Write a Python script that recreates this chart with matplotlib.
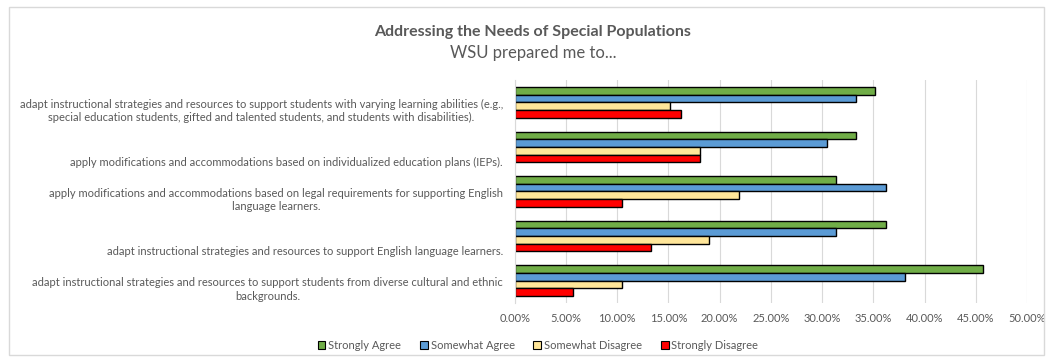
import matplotlib
matplotlib.use("Agg")
import matplotlib.pyplot as plt
import matplotlib.transforms as mtransforms
from matplotlib.patches import Patch, Rectangle
from matplotlib.ticker import FuncFormatter
import numpy as np

plt.rcParams['font.family'] = ['Lato', 'DejaVu Sans']

# survey items (top to bottom)
items = [
    "adapt instructional strategies and resources to support students with varying learning abilities (e.g.,\n"
    "special education students, gifted and talented students, and students with disabilities).",
    "apply modifications and accommodations based on individualized education plans (IEPs).",
    "apply modifications and accommodations based on legal requirements for supporting English\n"
    "language learners.",
    "adapt instructional strategies and resources to support English language learners.",
    "adapt instructional strategies and resources to support students from diverse cultural and ethnic\n"
    "backgrounds.",
]

# share of responses per item
strongly_agree = [0.352, 0.333, 0.314, 0.362, 0.457]
somewhat_agree = [0.333, 0.305, 0.362, 0.314, 0.381]
somewhat_disagree = [0.152, 0.181, 0.219, 0.190, 0.105]
strongly_disagree = [0.162, 0.181, 0.105, 0.133, 0.057]

series_names = ["Strongly Agree", "Somewhat Agree", "Somewhat Disagree", "Strongly Disagree"]
series_colors = ["#70AD47", "#5B9BD5", "#FFE699", "#FF0000"]
x_ticks = np.arange(0, 0.501, 0.05)

text_gray = "#595959"
grid_gray = "#D9D9D9"
small = 8

W, H = 1049, 358
fig = plt.figure(figsize=(W / 100, H / 100), dpi=100)
ax = fig.add_axes([514.7 / W, 1 - 303 / H, (1027 - 514.7) / W, (303 - 80) / H])

# outer chart border
fig.patches.append(Rectangle((9 / W, 1 - 355 / H), (1044 - 9) / W, (355 - 7) / H,
                             transform=fig.transFigure, fill=False,
                             edgecolor=grid_gray, linewidth=1.0))

pos = np.arange(len(items))
h = 0.172
all_series = [strongly_agree, somewhat_agree, somewhat_disagree, strongly_disagree]
for k, (vals, name, col) in enumerate(zip(all_series, series_names, series_colors)):
    ax.barh(pos + (k - 1.5) * h, vals, height=h, color=col, edgecolor="black",
            linewidth=1.0, label=name, zorder=3)

ax.set_ylim(len(items) - 0.5, -0.5)
ax.set_xlim(0, 0.5)
ax.set_xticks(x_ticks)
ax.xaxis.set_major_formatter(FuncFormatter(lambda v, p: f"{v * 100:.2f}%"))
ax.tick_params(axis="x", length=0, pad=7.5, labelsize=small, labelcolor=text_gray)
ax.set_yticks([])
ax.grid(axis="x", color=grid_gray, linewidth=0.8, zorder=0)
for s in ["top", "right", "bottom"]:
    ax.spines[s].set_visible(False)
ax.spines["left"].set_color(grid_gray)
ax.spines["left"].set_linewidth(0.8)
ax.spines["left"].set_zorder(4)

# item labels sit level with the bottom bar of each group
lab_tr = mtransforms.blended_transform_factory(ax.transAxes, ax.transData)
for i, txt in enumerate(items):
    ax.text(-0.023, pos[i] + 2 * h + 0.125, txt, transform=lab_tr, ha="right", va="bottom",
            multialignment="center", fontsize=small, color=text_gray, linespacing=1.25)

fig.text(533 / W, 1 - 31.7 / H, "Addressing the Needs of Special Populations",
         ha="center", va="center", fontsize=11.5, fontweight="bold", color=text_gray)
fig.text(533 / W, 1 - 53 / H, "WSU prepared me to...",
         ha="center", va="center", fontsize=12, color=text_gray)

handles = [Patch(facecolor=c, edgecolor="black", linewidth=0.8, label=n)
           for c, n in zip(series_colors, series_names)]
fig.legend(handles=handles, loc="center", bbox_to_anchor=(538 / W, 1 - 345.7 / H),
           ncol=4, frameon=False, fontsize=small, labelcolor=text_gray,
           handlelength=0.7, handleheight=0.7, handletextpad=0.25, columnspacing=1.7)

fig.savefig("out.png", dpi=100)
